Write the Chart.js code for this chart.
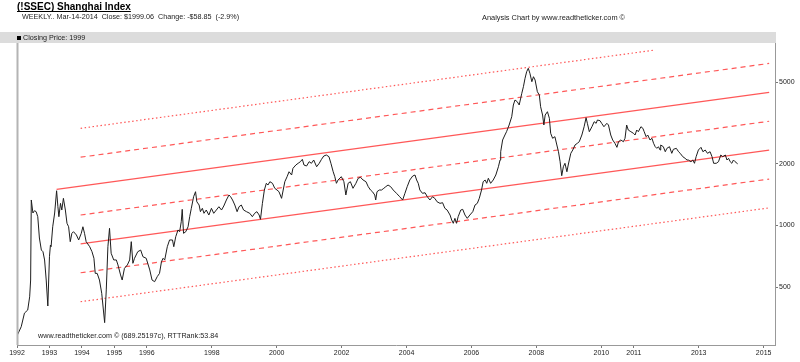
<!DOCTYPE html>
<html>
<head>
<meta charset="utf-8">
<script src="https://cdn.jsdelivr.net/npm/chart.js@4"></script>
<style>
html, body { margin: 0; padding: 0; background: #fff; }
#caja { width: 800px; height: 362px; position: relative; }
</style>
</head>
<body>
<div id="caja"><canvas id="shanghai"></canvas></div>
<script>
// cierre semanal (año decimal, valor del índice)
const semanas = [
    1992.01, 1992.13, 1992.23, 1992.33, 1992.39, 1992.42, 1992.44, 1992.49, 1992.54, 1992.59, 1992.64, 1992.69,
    1992.75, 1992.80, 1992.85, 1992.90, 1992.95, 1993.00, 1993.03, 1993.05, 1993.10, 1993.16, 1993.22, 1993.26,
    1993.29, 1993.34, 1993.38, 1993.43, 1993.49, 1993.54, 1993.59, 1993.64, 1993.69, 1993.74, 1993.83, 1993.90,
    1993.98, 1994.03, 1994.08, 1994.13, 1994.24, 1994.31, 1994.37, 1994.41, 1994.47, 1994.54, 1994.61, 1994.70,
    1994.75, 1994.80, 1994.85, 1994.90, 1994.98, 1995.06, 1995.11, 1995.19, 1995.24, 1995.31, 1995.40, 1995.47,
    1995.52, 1995.57, 1995.62, 1995.72, 1995.81, 1995.88, 1995.98, 1996.09, 1996.16, 1996.24, 1996.32, 1996.39,
    1996.45, 1996.50, 1996.55, 1996.63, 1996.70, 1996.79, 1996.83, 1996.89, 1996.96, 1997.01, 1997.06, 1997.09,
    1997.13, 1997.20, 1997.27, 1997.32, 1997.37, 1997.44, 1997.50, 1997.54, 1997.61, 1997.65, 1997.71, 1997.76,
    1997.83, 1997.91, 1997.99, 1998.06, 1998.14, 1998.22, 1998.30, 1998.37, 1998.45, 1998.53, 1998.58, 1998.64,
    1998.71, 1998.78, 1998.84, 1998.91, 1998.98, 1999.07, 1999.17, 1999.25, 1999.32, 1999.39, 1999.46, 1999.50,
    1999.56, 1999.62, 1999.68, 1999.73, 1999.79, 1999.87, 1999.94, 2000.01, 2000.07, 2000.15, 2000.20, 2000.25,
    2000.32, 2000.38, 2000.46, 2000.50, 2000.59, 2000.66, 2000.73, 2000.79, 2000.84, 2000.92, 2001.00, 2001.07,
    2001.14, 2001.23, 2001.31, 2001.38, 2001.45, 2001.53, 2001.61, 2001.67, 2001.74, 2001.79, 2001.84, 2001.89,
    2001.99, 2002.07, 2002.13, 2002.20, 2002.27, 2002.35, 2002.44, 2002.51, 2002.58, 2002.66, 2002.75, 2002.82,
    2002.89, 2002.95, 2003.02, 2003.05, 2003.09, 2003.16, 2003.23, 2003.30, 2003.36, 2003.43, 2003.51, 2003.59,
    2003.69, 2003.79, 2003.88, 2003.95, 2004.02, 2004.10, 2004.19, 2004.26, 2004.31, 2004.36, 2004.41, 2004.49,
    2004.57, 2004.64, 2004.72, 2004.80, 2004.87, 2004.94, 2005.03, 2005.11, 2005.18, 2005.25, 2005.34, 2005.39,
    2005.44, 2005.49, 2005.54, 2005.59, 2005.67, 2005.73, 2005.80, 2005.87, 2005.95, 2006.04, 2006.11, 2006.18,
    2006.24, 2006.31, 2006.36, 2006.42, 2006.47, 2006.52, 2006.59, 2006.67, 2006.75, 2006.83, 2006.88, 2006.90,
    2006.96, 2007.03, 2007.08, 2007.16, 2007.24, 2007.29, 2007.34, 2007.41, 2007.47, 2007.55, 2007.60, 2007.65,
    2007.70, 2007.75, 2007.80, 2007.86, 2007.91, 2007.96, 2008.03, 2008.09, 2008.13, 2008.19, 2008.23, 2008.27,
    2008.34, 2008.40, 2008.44, 2008.50, 2008.57, 2008.63, 2008.68, 2008.73, 2008.78, 2008.83, 2008.88, 2008.94,
    2008.98, 2009.06, 2009.12, 2009.19, 2009.26, 2009.32, 2009.40, 2009.47, 2009.53, 2009.57, 2009.63, 2009.71,
    2009.78, 2009.84, 2009.88, 2009.96, 2010.01, 2010.08, 2010.17, 2010.22, 2010.29, 2010.35, 2010.42, 2010.48,
    2010.53, 2010.60, 2010.68, 2010.73, 2010.78, 2010.83, 2010.91, 2010.99, 2011.04, 2011.09, 2011.14, 2011.22,
    2011.28, 2011.32, 2011.38, 2011.43, 2011.50, 2011.56, 2011.61, 2011.66, 2011.71, 2011.76, 2011.81, 2011.83,
    2011.91, 2011.97, 2012.02, 2012.10, 2012.17, 2012.22, 2012.31, 2012.38, 2012.43, 2012.51, 2012.58, 2012.64,
    2012.68, 2012.76, 2012.82, 2012.87, 2012.92, 2012.99, 2013.07, 2013.13, 2013.20, 2013.27, 2013.35, 2013.41,
    2013.46, 2013.54, 2013.61, 2013.68, 2013.74, 2013.82, 2013.87, 2013.92, 2013.97, 2014.02, 2014.07, 2014.12,
    2014.20,
];
const cierres = [
    291, 320, 373, 386, 448, 541, 1331, 1150, 1180, 1167, 1103, 868,
    758, 744, 678, 541, 404, 703, 802, 787, 985, 1150, 1477, 1234,
    1103, 1282, 1189, 1356, 1189, 1024, 985, 833, 915, 932, 898, 849,
    915, 985, 915, 833, 787, 744, 691, 583, 583, 541, 466, 335,
    484, 787, 968, 731, 678, 678, 641, 573, 541, 617, 641, 678,
    833, 653, 691, 744, 758, 703, 691, 606, 541, 531, 562, 583,
    665, 691, 678, 787, 849, 849, 787, 881, 950, 932, 1043, 1198,
    915, 932, 985, 1103, 1212, 1381, 1461, 1305, 1258, 1167, 1212, 1146,
    1189, 1124, 1212, 1146, 1189, 1234, 1189, 1244, 1331, 1408, 1381, 1331,
    1258, 1167, 1234, 1258, 1189, 1167, 1146, 1103, 1146, 1167, 1124, 1071,
    1282, 1489, 1606, 1575, 1635, 1606, 1518, 1489, 1461, 1356, 1489, 1635,
    1730, 1829, 1763, 1900, 1973, 2011, 2048, 2103, 1973, 1951, 2048, 2011,
    2087, 1935, 2011, 2103, 2183, 2208, 2166, 2011, 1829, 1730, 1606, 1667,
    1730, 1635, 1408, 1606, 1635, 1518, 1606, 1699, 1718, 1667, 1635, 1546,
    1489, 1461, 1408, 1331, 1461, 1489, 1489, 1518, 1546, 1575, 1546, 1489,
    1435, 1381, 1331, 1435, 1546, 1667, 1743, 1763, 1667, 1606, 1489, 1435,
    1444, 1381, 1331, 1381, 1356, 1305, 1282, 1291, 1212, 1189, 1124, 1063,
    1024, 1083, 1024, 1103, 1189, 1198, 1124, 1083, 1124, 1167, 1258, 1282,
    1356, 1489, 1635, 1667, 1606, 1699, 1606, 1667, 1763, 1935, 2087, 2291,
    2614, 2765, 2870, 3094, 3396, 3875, 4099, 4021, 3875, 4418, 4760, 5232,
    5635, 5855, 5534, 5035, 5327, 5132, 4498, 4335, 3801, 3462, 3094, 3462,
    3593, 3336, 2818, 2664, 2713, 2471, 2291, 2048, 1749, 1935, 2011, 1829,
    1973, 2250, 2335, 2471, 2518, 2564, 2765, 3035, 3358, 3154, 2870, 3035,
    3211, 3154, 3273, 3248, 3154, 3035, 3154, 3094, 2765, 2614, 2518, 2407,
    2564, 2614, 2564, 2664, 3094, 2924, 2870, 2818, 2765, 2924, 2870, 3035,
    2981, 2870, 2713, 2765, 2614, 2664, 2518, 2424, 2380, 2424, 2335, 2471,
    2424, 2291, 2380, 2424, 2250, 2354, 2380, 2291, 2250, 2166, 2127, 2087,
    2087, 2048, 2087, 2011, 2166, 2335, 2407, 2291, 2335, 2250, 2291, 2166,
    2011, 2011, 2048, 2208, 2166, 2208, 2087, 2127, 2048, 2011, 2087, 2048,
    1999,
];

// canal de tendencia: [año, valor] inicio y fin de cada recta
const canalPunteadoAlto = [[1993.96, 2981], [2011.66, 7194]];
const canalTrazosAlto = [[1993.96, 2154], [2015.17, 6185]];
const canalSolidoAlto = [[1993.22, 1499], [2015.17, 4469]];
const canalTrazosMedio = [[1993.96, 1124], [2015.17, 3228]];
const canalSolidoBajo = [[1993.96, 812], [2015.17, 2333]];
const canalTrazosBajo = [[1993.96, 587], [2015.17, 1685]];
const canalPunteadoBajo = [[1993.96, 424], [2015.17, 1218]];

const ticksAnios = [1992, 1993, 1994, 1995, 1996, 1998, 2000, 2002, 2004, 2006, 2008, 2010, 2011, 2013, 2015];
const ticksPrecio = [500, 1000, 2000, 5000];

const rojo = "rgba(255,70,70,0.9)";
const fuente = "'Liberation Sans', Arial, sans-serif";

function recta(puntos, dash, ancho) {
    return {
        data: puntos.map((p) => ({ x: p[0], y: p[1] })),
        borderColor: rojo,
        borderWidth: ancho,
        borderDash: dash,
        pointRadius: 0,
        order: 1,
    };
}

const cabecera = {
    id: "cabecera",
    beforeDraw(chart) {
        const ctx = chart.ctx;
        const a = chart.chartArea;
        ctx.save();
        ctx.fillStyle = "#fff";
        ctx.fillRect(0, 0, chart.width, chart.height);
        ctx.fillStyle = "#dcdcdc";
        ctx.fillRect(0, 32, a.right + 1, 11);
        ctx.restore();
    },
    afterDraw(chart) {
        const ctx = chart.ctx;
        const a = chart.chartArea;
        ctx.save();
        // linea izquierda del marco
        ctx.strokeStyle = "#b4b4b4";
        ctx.lineWidth = 2;
        ctx.beginPath();
        ctx.moveTo(a.left + 0.5, a.top);
        ctx.lineTo(a.left + 0.5, a.bottom);
        ctx.stroke();

        ctx.textBaseline = "middle";
        ctx.fillStyle = "#000";
        ctx.font = "bold 10px " + fuente;
        const titulo = "(!SSEC) Shanghai Index";
        ctx.fillText(titulo, 17, 7);
        const w = ctx.measureText(titulo).width;
        ctx.lineWidth = 1;
        ctx.strokeStyle = "#000";
        ctx.beginPath();
        ctx.moveTo(17, 11.5);
        ctx.lineTo(17 + w, 11.5);
        ctx.stroke();

        ctx.font = "7.2px " + fuente;
        ctx.fillStyle = "#222";
        ctx.fillText("WEEKLY.. Mar-14-2014  Close: $1999.06  Change: -$58.85  (-2.9%)", 22, 17.5);
        ctx.font = "7.4px " + fuente;
        ctx.fillText("Analysis Chart by www.readtheticker.com \u00a9", 482, 17.5);

        ctx.fillStyle = "#000";
        ctx.fillRect(17, 36, 4, 4);
        ctx.font = "7.2px " + fuente;
        ctx.fillStyle = "#222";
        ctx.fillText("Closing Price: 1999", 23, 38.5);

        ctx.fillText("www.readtheticker.com \u00a9 (689.25197c), RTTRank:53.84", 38, 336.5);
        ctx.restore();
    },
};

new Chart(document.getElementById("shanghai"), {
    type: "line",
    data: {
        datasets: [
            {
                label: "Closing Price",
                data: semanas.map((s, i) => ({ x: s, y: cierres[i] })),
                borderColor: "#1e1e1e",
                borderWidth: 1,
                pointRadius: 0,
                tension: 0,
                order: 0,
            },
            recta(canalPunteadoAlto, [1.5, 2.5], 1.2),
            recta(canalTrazosAlto, [5, 4], 1.2),
            recta(canalSolidoAlto, [], 1.3),
            recta(canalTrazosMedio, [5, 4], 1.2),
            recta(canalSolidoBajo, [], 1.3),
            recta(canalTrazosBajo, [5, 4], 1.2),
            recta(canalPunteadoBajo, [1.5, 2.5], 1.2),
        ],
    },
    options: {
        responsive: true,
        maintainAspectRatio: false,
        animation: false,
        devicePixelRatio: 1,
        layout: { padding: { left: 17, top: 43, right: 0, bottom: 0 } },
        scales: {
            x: {
                type: "linear",
                position: "bottom",
                min: 1992,
                max: 2015.35,
                afterBuildTicks: (scale) => {
                    scale.ticks = ticksAnios.map((v) => ({ value: v }));
                },
                afterFit: (scale) => {
                    scale.height = 17;
                },
                grid: { drawOnChartArea: false, tickLength: 3, color: "#777" },
                border: { color: "#999" },
                ticks: {
                    autoSkip: false,
                    maxRotation: 0,
                    padding: 1,
                    font: { family: fuente, size: 7 },
                    color: "#222",
                    callback: (v) => String(v),
                },
            },
            y: {
                type: "logarithmic",
                position: "right",
                min: 260.5,
                max: 7783,
                afterBuildTicks: (scale) => {
                    scale.ticks = ticksPrecio.map((v) => ({ value: v }));
                },
                afterFit: (scale) => {
                    scale.width = 25;
                },
                grid: { drawOnChartArea: false, tickLength: 3, color: "#777" },
                border: { color: "#999" },
                ticks: {
                    padding: 1,
                    font: { family: fuente, size: 7 },
                    color: "#222",
                    callback: (v) => String(v),
                },
            },
        },
        plugins: {
            legend: { display: false },
            tooltip: { enabled: false },
        },
    },
    plugins: [cabecera],
});
</script>
</body>
</html>
